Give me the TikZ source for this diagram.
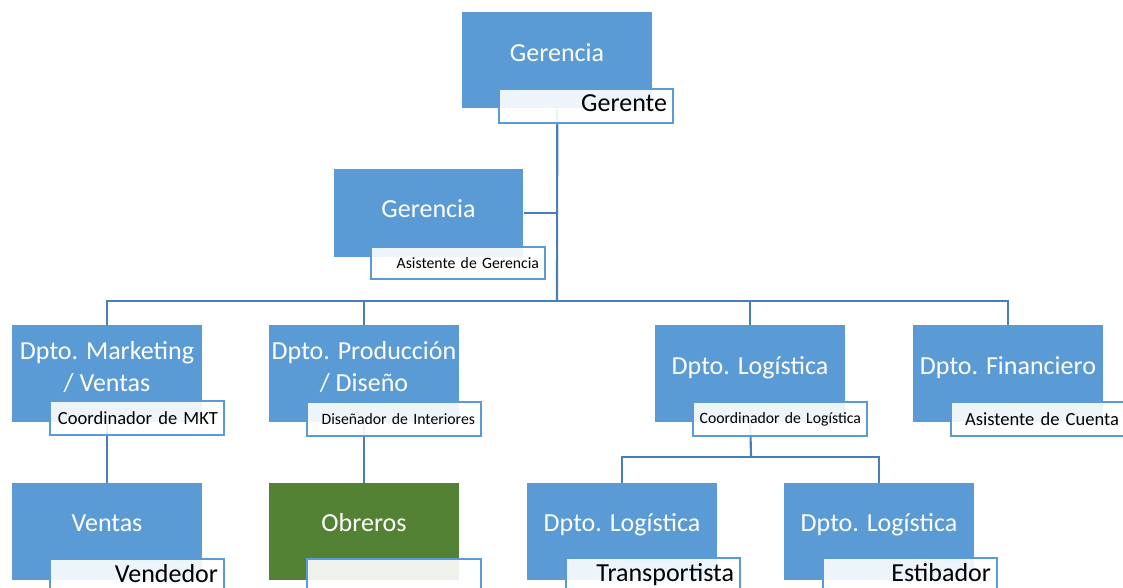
\documentclass[tikz,border=0pt]{standalone}
\usepackage{fontspec}
\setmainfont{Carlito}
\usetikzlibrary{backgrounds}
\definecolor{azul}{HTML}{5B9BD5}
\definecolor{verde}{HTML}{548235}
\definecolor{linea}{HTML}{4A7EBB}
\tikzset{
  caja/.style={fill=azul, inner sep=0pt, anchor=north west,
    minimum width=142.5pt, minimum height=72.75pt},
  titulo/.style={anchor=base, text=white, align=center, inner sep=0pt,
    font=\fontsize{19.5}{24}\selectfont},
  cargo/.style={draw=azul, line width=1.5pt, fill=white, fill opacity=0.9,
    text opacity=1, anchor=north west, minimum width=130.5pt,
    minimum height=25.5pt, text width=121.5pt, align=right,
    inner xsep=4.5pt, inner ysep=0pt},
  grande/.style={font=\fontsize{19.5}{23}\selectfont, text height=13.5pt, text depth=4.5pt},
  media/.style={font=\fontsize{13.9}{16}\selectfont},
  chica/.style={font=\fontsize{11.8}{14}\selectfont},
  conector/.style={draw=linea, line width=1.6pt}
}
\begin{document}
\begin{tikzpicture}[x=0.75pt, y=-0.75pt]
    \useasboundingbox (0,0) rectangle (1123,588);
    \clip (0,0) rectangle (1123,588);

    % 1. Gerencia y asistente
    \node[caja, minimum height=72pt] (g1) at (462,12) {};
    \node[titulo] (g1t) at (557,62) {Gerencia};
    \node[cargo, grande] (g1c) at (498,88) {Gerente};

    \node[caja, minimum width=141.75pt, minimum height=66pt] (g2) at (334,169) {};
    \node[titulo] (g2t) at (428.5,217) {Gerencia};
    \node[cargo, chica, minimum height=24pt] (g2c) at (370,246) {Asistente de Gerencia};

    % 2. Departamentos
    \node[caja] (mk) at (12,325) {};
    \node[titulo] (mkt) at (107,391) {Dpto. Marketing\\/ Ventas};
    \node[cargo, media] (mkc) at (49,400) {Coordinador de MKT};

    \node[caja] (pr) at (269,325) {};
    \node[titulo] (prt) at (364,391) {Dpto. Producción\\/ Diseño};
    \node[cargo, chica] (prc) at (306,401) {Diseñador de Interiores};

    \node[caja] (lo) at (655,325) {};
    \node[titulo] (lot) at (750,374) {Dpto. Logística};
    \node[cargo, chica] (loc) at (692,401) {Coordinador de Logística};

    \node[caja] (fi) at (913,325) {};
    \node[titulo] (fit) at (1008,374) {Dpto. Financiero};
    \node[cargo, media] (fic) at (950,401) {Asistente de Cuenta};

    % 3. Tercer nivel
    \node[caja] (ve) at (12,483) {};
    \node[titulo] (vet) at (107,531) {Ventas};
    \node[cargo, grande] (vec) at (49,558) {Vendedor};

    \node[caja, fill=verde] (ob) at (269,483) {};
    \node[titulo] (obt) at (364,531) {Obreros};
    \node[cargo, grande] (obc) at (306,558) {};

    \node[caja] (tr) at (527,483) {};
    \node[titulo] (trt) at (622,531) {Dpto. Logística};
    \node[cargo, grande] (trc) at (565,557) {Transportista};

    \node[caja] (es) at (784,483) {};
    \node[titulo] (est) at (879,531) {Dpto. Logística};
    \node[cargo, grande] (esc) at (822,557) {Estibador};

    % 4. Conectores (detras de las cajas)
    \coordinate (barra) at (557,301);
    \coordinate (rama) at (751,457);
    \begin{pgfonlayer}{background}
        \draw[conector] (g1.south) -- (barra);
        \draw[conector] (g2.east) -- (g2.east -| barra);
        \draw[conector] (mk.north) |- (barra) -| (fi.north);
        \draw[conector] (pr.north) -- (pr.north |- barra);
        \draw[conector] (lo.north) -- (lo.north |- barra);
        \draw[conector] (mk.south) -- (ve.north);
        \draw[conector] (pr.south) -- (ob.north);
        \draw[conector] (lo.south) -- (rama);
        \draw[conector] (tr.north) |- (rama) -| (es.north);
    \end{pgfonlayer}
\end{tikzpicture}
\end{document}
